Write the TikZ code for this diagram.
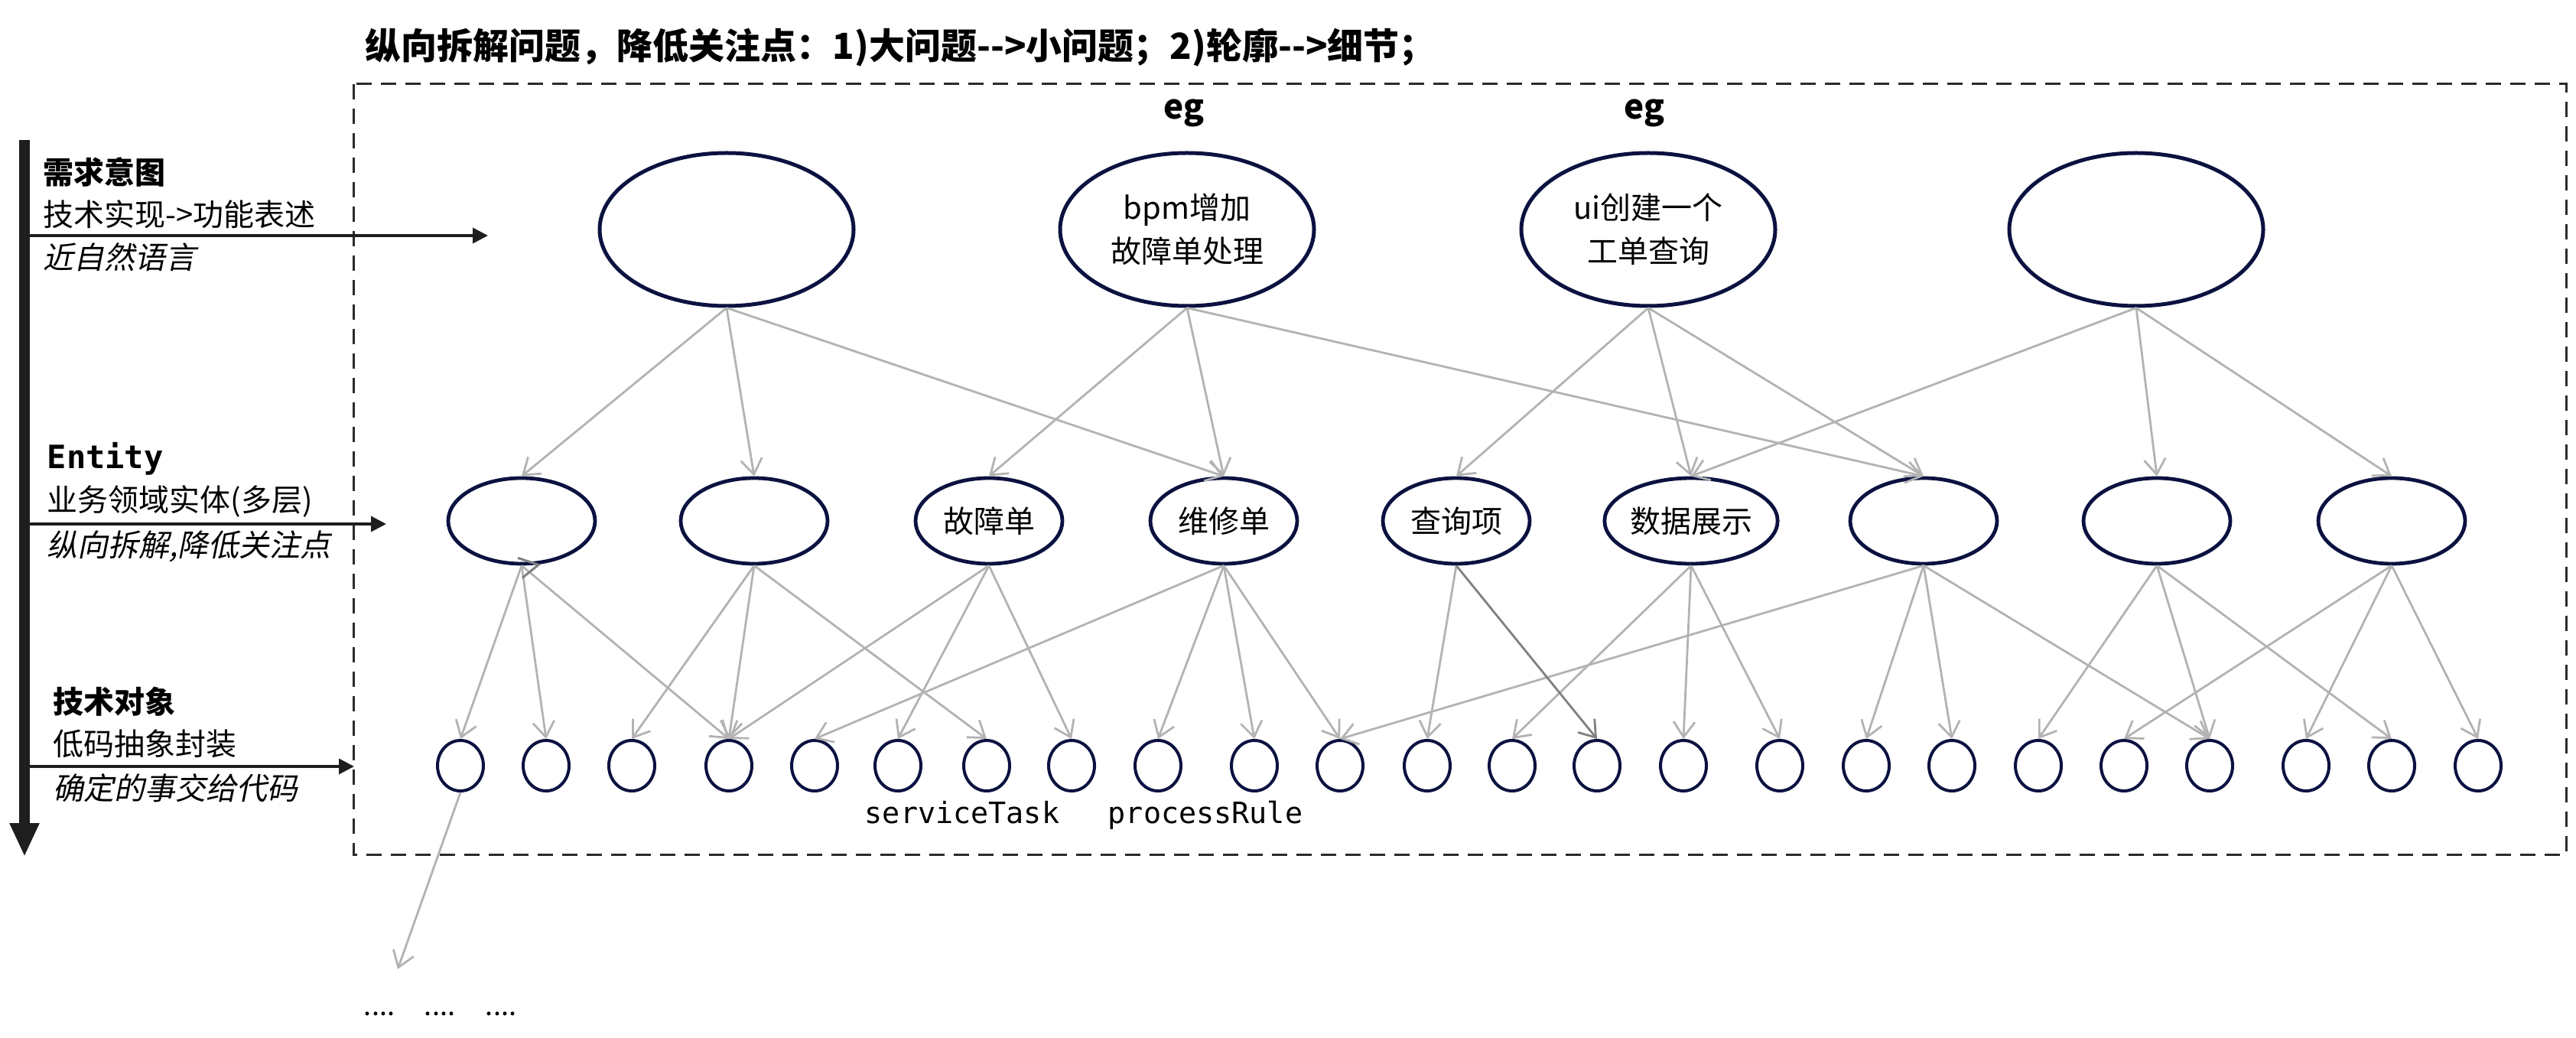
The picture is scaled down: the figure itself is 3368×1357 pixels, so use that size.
\documentclass[tikz,border=0pt]{standalone}
\usepackage{fontspec}
\setmainfont{Noto Sans CJK SC}
\newfontfamily\cjkit{Noto Sans CJK SC}[FakeSlant=0.2]
\setmonofont{DejaVu Sans Mono}
\usetikzlibrary{arrows.meta,shapes.geometric}
\definecolor{navy}{HTML}{0B1240}
\definecolor{conngray}{HTML}{B3B3B3}
\definecolor{conndark}{HTML}{808080}
\definecolor{boxline}{HTML}{2B2B2B}
\definecolor{axisline}{HTML}{1E1E1E}
\tikzset{
  bigell/.style={ellipse, draw=navy, line width=1.25pt, minimum width=83pt, minimum height=50pt, inner sep=0pt, align=center, font=\fontsize{10}{14.25}\selectfont},
  entell/.style={ellipse, draw=navy, line width=1.2pt, minimum width=48pt, minimum height=28pt, inner sep=0pt, font=\fontsize{10}{12}\selectfont},
  leafell/.style={ellipse, draw=navy, line width=1pt, minimum width=15pt, minimum height=16.5pt, inner sep=0pt},
  conn/.style={draw=conngray, line width=0.7pt, -{Straight Barb[length=5pt,width=7pt]}},
  conndk/.style={conn, draw=conndark},
  lvlarrow/.style={draw=axisline, line width=0.9pt, -{Triangle[length=5pt,width=5pt]}},
  lbl/.style={anchor=west, inner sep=0pt},
  normtxt/.style={font=\fontsize{10}{12}\selectfont},
  boldtxt/.style={font=\bfseries\fontsize{10}{12}\selectfont},
  ittxt/.style={font=\cjkit\fontsize{10}{12}\selectfont},
  monotxt/.style={font=\ttfamily\fontsize{9.6}{12}\selectfont, inner sep=0pt, anchor=base},
  egtxt/.style={font=\bfseries\fontsize{11}{12}\selectfont}
}
\begin{document}
\begin{tikzpicture}[x=0.25pt,y=-0.25pt]
\useasboundingbox (0,0) rectangle (3368,1357);
\fill[white] (0,0) rectangle (3368,1357);

% title
\node[anchor=west, inner sep=0pt, font=\bfseries\fontsize{11.75}{12}\selectfont] (title) at (477,62) {纵向拆解问题，降低关注点：1){大问题}-{}-{}>小问题；2)轮廓-{}-{}>细节；};

% dashed frame
\draw[boxline, line width=0.75pt, dash pattern=on 5pt off 3pt] (462,110) rectangle (3355,1117);

% left axis
\coordinate (axtop) at (32,183);
\coordinate (axbot) at (32,1120);
\draw[axisline, line width=3.5pt, -{Triangle[length=11pt,width=9pt]}] (axtop) -- (axbot);

% level labels
\node[lbl, boldtxt] (l1a) at (56,225) {需求意图};
\node[lbl, normtxt] (l1b) at (56,280) {技术实现->功能表述};
\node[lbl, ittxt] (l1c) at (56,336) {近自然语言};
\coordinate (a1s) at (32,308);
\coordinate (a1e) at (638,308);
\draw[lvlarrow] (a1s) -- (a1e);

\node[lbl, font=\ttfamily\bfseries\fontsize{10.5}{12}\selectfont] (l2a) at (61,600) {Entity};
\node[lbl, normtxt] (l2b) at (61,655) {业务领域实体(多层)};
\node[lbl, ittxt] (l2c) at (61,714) {纵向拆解,降低关注点};
\coordinate (a2s) at (32,685);
\coordinate (a2e) at (505,685);
\draw[lvlarrow] (a2s) -- (a2e);

\node[lbl, boldtxt] (l3a) at (69,917) {技术对象};
\node[lbl, normtxt] (l3b) at (69,972) {低码抽象封装};
\node[lbl, ittxt] (l3c) at (69,1030) {确定的事交给代码};
\coordinate (a3s) at (32,1002);
\coordinate (a3e) at (463,1002);
\draw[lvlarrow] (a3s) -- (a3e);

% eg labels
\node[egtxt] (eg1) at (1548,148) {eg};
\node[egtxt] (eg2) at (2150,148) {eg};

% top level
\node[bigell] (T1) at (950,300) {};
\node[bigell] (T2) at (1552,300) {bpm增加\\故障单处理};
\node[bigell] (T3) at (2155,300) {ui创建一个\\工单查询};
\node[bigell] (T4) at (2793,300) {};

% entity level
\node[entell] (E1) at (682,681) {};
\node[entell] (E2) at (986,681) {};
\node[entell] (E3) at (1293,681) {故障单};
\node[entell] (E4) at (1600,681) {维修单};
\node[entell] (E5) at (1904,681) {查询项};
\node[entell] (E6) at (2211,681) {数据展示};
\node[entell] (E7) at (2515,681) {};
\node[entell] (E8) at (2820,681) {};
\node[entell] (E9) at (3127,681) {};

% technical objects
\foreach \i/\x in {1/602,2/714,3/826,4/953,5/1065,6/1174,7/1290,8/1401,9/1514,10/1640,11/1752,12/1866,13/1977,14/2088,15/2201,16/2327,17/2440,18/2552,19/2665,20/2777,21/2889,22/3015,23/3127,24/3240}
  \node[leafell] (B\i) at (\x,1001) {};

\node[monotxt] (st) at (1258,1076) {serviceTask};
\node[monotxt] (pr) at (1576,1076) {processRule};

% top -> entity
\foreach \a/\b in {T1/E1,T1/E2,T1/E4,T2/E3,T2/E4,T2/E7,T3/E5,T3/E6,T3/E7,T4/E6,T4/E8,T4/E9}
  \draw[conn] (\a.south) -- (\b.north);

% entity -> technical objects
\foreach \a/\b in {E1/B1,E1/B2,E1/B4,E2/B3,E2/B4,E2/B7,E3/B4,E3/B6,E3/B8,E4/B5,E4/B9,E4/B10,E4/B11,E5/B12,E6/B13,E6/B15,E6/B16,E7/B11,E7/B17,E7/B18,E7/B21,E8/B19,E8/B21,E8/B23,E9/B20,E9/B22,E9/B24}
  \draw[conn] (\a.south) -- (\b.north);
\draw[conndk] (E5.south) -- (B14.north);

% small dark chevron at E1
\draw[conndark, line width=0.75pt] ([shift={(-5,-10)}]E1.south) -- ([shift={(22,-1)}]E1.south) -- ([shift={(1,16)}]E1.south);

% further decomposition
\coordinate (more) at (520,1267);
\draw[conn] (B1.south) -- (more);
\node[font=\fontsize{9}{10}\selectfont, anchor=base, inner sep=0pt] (d1) at (496,1327) {....};
\node[font=\fontsize{9}{10}\selectfont, anchor=base, inner sep=0pt] (d2) at (575,1327) {....};
\node[font=\fontsize{9}{10}\selectfont, anchor=base, inner sep=0pt] (d3) at (655,1327) {....};
\end{tikzpicture}
\end{document}
